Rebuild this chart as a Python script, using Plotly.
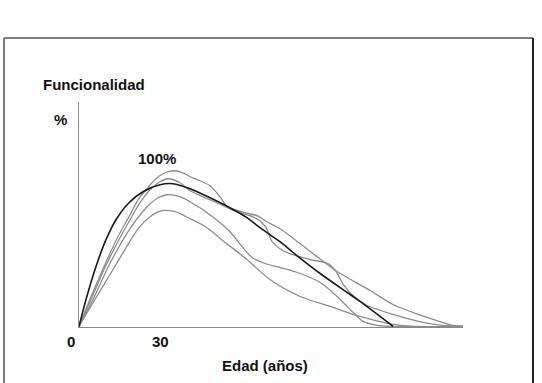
import plotly.graph_objects as go

# ---- data (age in years, functionality in %) ----
black_x = [0, 2.6, 6.3, 10.0, 13.7, 18.5, 23.7, 30.0, 34.8, 41.1, 48.5, 55.9, 62.2, 67.0, 74.4, 80.7, 89.3, 99.3, 104.1, 116.3]
black_y = [0, 18.9, 42.0, 60.8, 74.8, 86.7, 94.4, 99.3, 100, 96.5, 90.2, 83.2, 76.2, 69.2, 59.4, 49.7, 37.1, 23.8, 17.5, 0]

g1_x = [0, 4.8, 9.6, 14.4, 18.9, 21.9, 24.8, 28.1, 31.1, 34.8, 38.5, 41.1, 44.8, 48.5, 52.2, 55.2, 59.6, 63.3, 67.0, 69.3, 71.5, 74.4, 78.1, 85.6, 92.2, 95.2, 98.1, 102.2, 106.7, 116.3, 127.4, 134.8, 142.2]
g1_y = [0, 22.4, 43.4, 62.9, 78.3, 88.8, 95.8, 102.8, 107.0, 109.1, 107.7, 104.9, 102.1, 98.6, 90.9, 83.2, 79.7, 77.6, 74.1, 69.2, 59.4, 54.5, 51.0, 46.9, 44.1, 38.5, 28.7, 20.3, 14.7, 8.4, 2.8, 0.7, 0]

g2_x = [0, 4.8, 9.6, 14.4, 18.9, 22.6, 26.3, 30.0, 33.0, 37.4, 41.1, 48.5, 55.2, 61.5, 65.9, 69.6, 74.4, 80.0, 86.7, 95.6, 107.8, 116.3, 128.9, 138.5, 142.2]
g2_y = [0, 20.3, 41.3, 59.4, 74.8, 86.7, 95.8, 101.4, 103.5, 100.7, 95.1, 88.8, 83.2, 79.7, 77.6, 73.4, 68.5, 60.8, 51.0, 38.5, 25.2, 15.4, 6.3, 0.7, 0]

g3_x = [0, 5.2, 10.7, 15.9, 20.7, 25.6, 29.3, 32.6, 37.4, 41.1, 48.5, 55.9, 60.4, 64.1, 68.9, 74.4, 81.9, 89.3, 94.8, 100.4, 105.2, 110.4, 115.2, 142.2]
g3_y = [0, 18.9, 41.3, 59.4, 73.4, 84.6, 90.2, 92.3, 90.9, 87.4, 78.3, 66.4, 55.9, 48.3, 44.1, 41.3, 37.1, 30.8, 22.4, 11.9, 3.5, 0.7, 0, 0]

g4_x = [0, 5.9, 11.5, 17.0, 22.2, 26.3, 30.7, 35.6, 41.1, 47.4, 53.3, 62.2, 70.7, 81.9, 93.0, 104.1, 112.6, 118.9, 124.4, 142.2]
g4_y = [0, 18.9, 36.4, 53.8, 69.2, 76.9, 81.1, 80.4, 75.5, 69.2, 60.1, 46.9, 32.9, 21.0, 14.0, 7.0, 2.8, 0.7, 0, 0]

x_ticks = [0, 30]
x_tick_labels = ["0", "30"]

W, H = 542, 383

fig = go.Figure()
gray = "#8c8c8c"
for gx, gy in [(g1_x, g1_y), (g2_x, g2_y), (g3_x, g3_y), (g4_x, g4_y)]:
    fig.add_trace(go.Scatter(x=gx, y=gy, mode="lines",
                             line=dict(color=gray, width=1.3, shape="spline", smoothing=0.8),
                             hoverinfo="skip", showlegend=False))
fig.add_trace(go.Scatter(x=black_x, y=black_y, mode="lines",
                         line=dict(color="#1a1a1a", width=1.6, shape="spline", smoothing=0.8),
                         hoverinfo="skip", showlegend=False))

bfont = dict(family="Liberation Sans, Arial, sans-serif", size=15, color="#111111")

annotations = [
    dict(text="<b>Funcionalidad</b>", x=41 / W, y=(H - 84) / H, xref="paper", yref="paper",
         xanchor="left", yanchor="middle", showarrow=False, font=bfont),
    dict(text="<b>%</b>", x=60 / W, y=(H - 119) / H, xref="paper", yref="paper",
         xanchor="center", yanchor="middle", showarrow=False, font=bfont),
    dict(text="<b>100%</b>", x=28.9, y=117.8, xref="x", yref="y",
         xanchor="center", yanchor="middle", showarrow=False, font=bfont),
    dict(text="<b>Edad (años)</b>", x=265 / W, y=(H - 365) / H, xref="paper", yref="paper",
         xanchor="center", yanchor="middle", showarrow=False, font=bfont),
]
tick_offsets = [-3, 0]
for v, lab, off in zip(x_ticks, x_tick_labels, tick_offsets):
    annotations.append(dict(text="<b>%s</b>" % lab, x=v, y=(H - 341) / H, xref="x", yref="paper",
                            xanchor="center", yanchor="middle", xshift=off * 2.7 if v == 0 else 0,
                            showarrow=False, font=bfont))

shapes = [
    dict(type="line", xref="paper", yref="paper", x0=4 / W, x1=533 / W, y0=(H - 38) / H, y1=(H - 38) / H,
         line=dict(color="#555555", width=1.5)),
    dict(type="line", xref="paper", yref="paper", x0=4 / W, x1=4 / W, y0=-0.05, y1=(H - 38) / H,
         line=dict(color="#555555", width=1.5)),
    dict(type="line", xref="paper", yref="paper", x0=533 / W, x1=533 / W, y0=-0.05, y1=(H - 38) / H,
         line=dict(color="#222222", width=2)),
]

fig.update_layout(
    width=W, height=H,
    margin=dict(l=0, r=0, t=0, b=0),
    paper_bgcolor="white", plot_bgcolor="white",
    showlegend=False,
    xaxis=dict(domain=[79 / W, 463 / W], range=[0, 142.2], showgrid=False, zeroline=False,
               showline=True, linecolor="#888888", linewidth=1.2, showticklabels=False, ticks=""),
    yaxis=dict(domain=[56 / H, 281 / H], range=[-0.4, 157.3], showgrid=False, zeroline=False,
               showline=True, linecolor="#888888", linewidth=1.2, showticklabels=False, ticks=""),
    annotations=annotations,
    shapes=shapes,
)

fig.write_html("out.html")
